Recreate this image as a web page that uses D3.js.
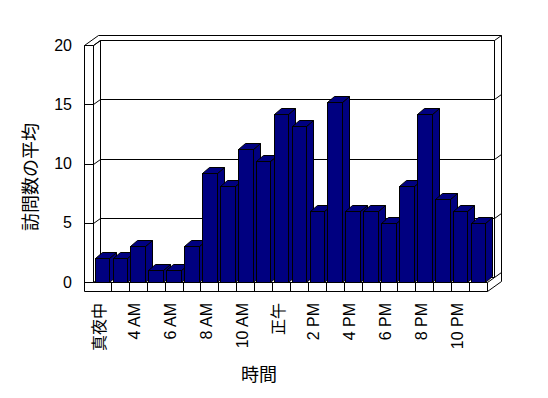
<!DOCTYPE html>
<meta charset="utf-8">
<style>
    body { margin: 0; background: #fff; }
    text { font-family: "Liberation Sans", "Noto Sans CJK JP", sans-serif; fill: #000; }
</style>
<body>
<script src="https://cdn.jsdelivr.net/npm/d3@7"></script>
<script>

    var hours = ['真夜中', '1 AM', '4 AM', '5 AM', '6 AM', '7 AM', '8 AM', '9 AM', '10 AM', '11 AM',
                 '正午', '1 PM', '2 PM', '3 PM', '4 PM', '5 PM', '6 PM', '7 PM', '8 PM', '9 PM', '10 PM', '11 PM'];
    var visits = [2, 2, 3, 1, 1, 3, 9.2, 8.1, 11.2, 10.2, 14.2, 13.2, 6, 15.2, 6, 6, 5, 8.1, 14.2, 7, 6, 5];
    var yTicks = [0, 5, 10, 15, 20];
    var xTitle = '時間';
    var yTitle = '訪問数の平均';

    var width = 548, height = 398;
    var plotLeft = 93, plotRight = 487, plotBottom = 282, plotTop = 45;
    var thick = 9;               // wall / floor slab thickness
    var wd = {dx: 7, dy: -5};    // depth of the floor
    var bd = {dx: 7, dy: -6};    // depth of a bar

    var svg = d3.select('body').append('svg')
        .attr('width', width)
        .attr('height', height);

    var x = d3.scaleBand()
        .domain(hours)
        .range([plotLeft, plotRight])
        .paddingInner(0.18)
        .paddingOuter(0.09);

    var cell = d3.scaleBand()
        .domain(hours)
        .range([plotLeft, plotRight]);

    var y = d3.scaleLinear()
        .domain([0, 20])
        .range([plotBottom, plotTop]);

    var line = d3.line();
    var frame = svg.append('g')
        .attr('fill', 'none')
        .attr('stroke', '#000')
        .attr('stroke-width', 1);

    function seg(pts, closed) {
        frame.append('path')
            .attr('d', line(pts.map(function(p) { return [Math.round(p[0]) + 0.5, Math.round(p[1]) + 0.5]; })) + (closed ? 'Z' : ''));
    }

    var L0 = plotLeft - thick, B1 = plotBottom + thick;

    // left wall front face + floor front face
    seg([[L0, plotTop], [L0, B1], [plotRight, B1], [plotRight, plotBottom], [plotLeft, plotBottom], [plotLeft, plotTop]], true);
    // top edges of left wall
    seg([[L0, plotTop], [L0 + 2 * wd.dx, plotTop + 2 * wd.dy]]);
    seg([[plotLeft, plotTop], [plotLeft + wd.dx, plotTop + wd.dy]]);
    // outer back wall
    seg([[L0 + 2 * wd.dx, plotTop + 2 * wd.dy], [plotRight + 2 * wd.dx, plotTop + 2 * wd.dy], [plotRight + 2 * wd.dx, B1 + 2 * wd.dy]]);
    seg([[plotRight, B1], [plotRight + 2 * wd.dx, B1 + 2 * wd.dy]]);
    // inner back wall
    seg([[plotLeft + wd.dx, plotBottom + wd.dy], [plotLeft + wd.dx, plotTop + wd.dy], [plotRight + wd.dx, plotTop + wd.dy],
         [plotRight + wd.dx, plotBottom + wd.dy], [plotRight, plotBottom]]);

    // gridlines across left wall, back wall and right edge
    yTicks.forEach(function(v) {
        var yf = y(v);
        seg([[L0, yf], [plotLeft, yf], [plotLeft + wd.dx, yf + wd.dy], [plotRight + wd.dx, yf + wd.dy], [plotRight + 2 * wd.dx, yf + 2 * wd.dy]]);
    });

    // floor cell dividers
    hours.slice(1).forEach(function(h) {
        seg([[cell(h), plotBottom], [cell(h), B1]]);
    });

    // bars
    var bars = svg.append('g')
        .attr('stroke', '#000')
        .attr('stroke-width', 1)
        .attr('stroke-linejoin', 'miter');

    hours.forEach(function(h, i) {
        var x0 = Math.round(x(h)) + 0.5;
        var x1 = Math.round(x(h) + x.bandwidth()) + 0.5;
        var yT = Math.round(y(visits[i])) + 0.5;
        var yB = plotBottom + 0.5;
        var g = bars.append('g');
        // side
        g.append('path')
            .attr('fill', '#000080')
            .attr('d', line([[x1, yB], [x1 + bd.dx, yB + bd.dy], [x1 + bd.dx, yT + bd.dy], [x1, yT]]) + 'Z');
        // top
        g.append('path')
            .attr('fill', '#000080')
            .attr('d', line([[x0, yT], [x0 + bd.dx, yT + bd.dy], [x1 + bd.dx, yT + bd.dy], [x1, yT]]) + 'Z');
        // front
        g.append('rect')
            .attr('fill', '#000080')
            .attr('x', x0)
            .attr('y', yT)
            .attr('width', x1 - x0)
            .attr('height', yB - yT);
    });

    // y axis labels
    var yAxis = svg.append('g')
        .attr('transform', 'translate(' + L0 + ',0)')
        .call(d3.axisLeft(y).tickValues(yTicks).tickSize(0).tickPadding(12));
    yAxis.select('.domain').remove();
    yAxis.selectAll('text')
        .attr('fill', '#000')
        .style('font-size', '16px');

    // x axis labels (every other category)
    var xAxis = svg.append('g')
        .attr('transform', 'translate(-3,' + B1 + ')')
        .call(d3.axisBottom(cell).tickSize(0).tickFormat(function(d, i) { return i % 2 === 0 ? d : ''; }));
    xAxis.select('.domain').remove();
    xAxis.selectAll('text')
        .attr('fill', '#000')
        .style('font-size', '16px')
        .attr('transform', 'rotate(-90)')
        .attr('text-anchor', 'end')
        .attr('x', -12)
        .attr('y', 0)
        .attr('dy', '0.35em');

    // titles
    svg.append('text')
        .attr('x', 259)
        .attr('y', 375)
        .attr('text-anchor', 'middle')
        .attr('dominant-baseline', 'central')
        .style('font-size', '18px')
        .text(xTitle);

    svg.append('text')
        .attr('transform', 'translate(31,177) rotate(-90)')
        .attr('text-anchor', 'middle')
        .attr('dominant-baseline', 'central')
        .style('font-size', '18px')
        .text(yTitle);

</script>
</body>
